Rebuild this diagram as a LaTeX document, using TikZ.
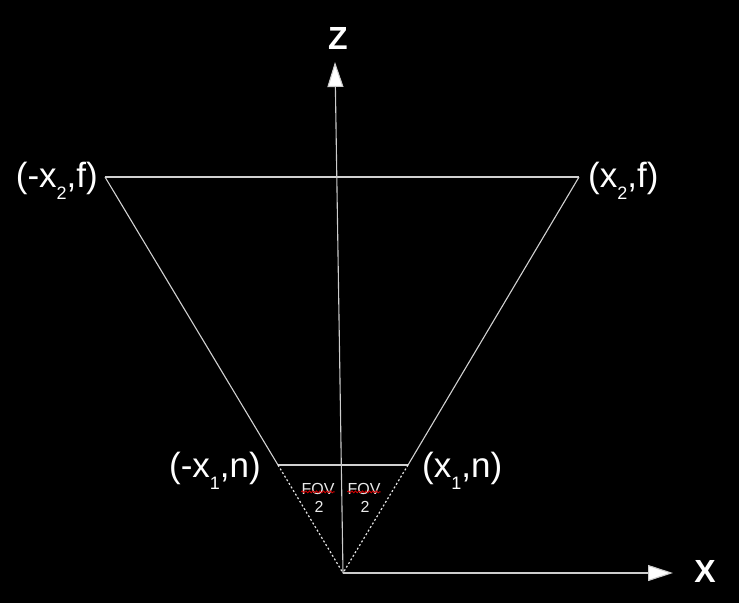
\documentclass[tikz,border=0pt]{standalone}
\usepackage{fontspec}
\setmainfont{Liberation Sans}
\usetikzlibrary{arrows.meta,decorations.pathmorphing}
\newcommand{\mysub}[1]{\raisebox{-12pt}{\fontsize{18}{18}\selectfont #1}}
\tikzset{
  edge/.style={draw=white!82!black, line width=1.1pt},
  dotline/.style={draw=white!90!black, line width=1.2pt, dash pattern=on 2pt off 2.2pt},
  axis/.style={draw=white!80!black, line width=1.1pt, -{Triangle[width=16pt,length=25pt,fill=white]}},
  lab/.style={text=white, inner sep=0pt, font=\fontsize{35}{35}\selectfont},
  axlab/.style={text=white, inner sep=0pt, font=\fontsize{32}{32}\selectfont\bfseries},
  small/.style={text=white!92!black, inner sep=0pt, font=\fontsize{16}{16}\selectfont},
  spell/.style={draw=red!85!black, line width=0.8pt, decorate, decoration={snake, amplitude=1pt, segment length=3.5pt}}
}
\begin{document}
\begin{tikzpicture}[x=1pt,y=-1pt]
\fill[black] (0,0) rectangle (739,603);
\useasboundingbox (0,0) rectangle (739,603);
\coordinate (O) at (343,573);
\coordinate (ztip) at (335,62);
\coordinate (xtip) at (673,573);
\coordinate (A) at (105,177);
\coordinate (B) at (579,177);
\coordinate (C) at (278,465);
\coordinate (D) at (408,465);
\draw[edge] (A) -- (B);
\draw[edge] (A) -- (C);
\draw[edge] (B) -- (D);
\draw[edge] (C) -- (D);
\draw[dotline] (C) -- (O);
\draw[dotline] (D) -- (O);
\draw[axis] (O) -- (ztip);
\draw[axis] (O) -- (xtip);
\node[axlab] (zl) at (338,38) {Z};
\node[axlab] (xl) at (705,571) {X};
\node[lab, anchor=base east] (la) at (98,187) {(-x\mysub{2},f)};
\node[lab, anchor=base west] (lb) at (588,187) {(x\mysub{2},f)};
\node[lab, anchor=base east] (lc) at (261,477) {(-x\mysub{1},n)};
\node[lab, anchor=base west] (ld) at (422,477) {(x\mysub{1},n)};
\node[small, anchor=base] (fl) at (318,494) {FOV};
\node[small, anchor=base] (fl2) at (319,512) {2};
\node[small, anchor=base] (fr) at (364,494) {FOV};
\node[small, anchor=base] (fr2) at (365,512) {2};
\draw[spell] ([yshift=2.5pt]fl.south west) -- ([yshift=2.5pt]fl.south east);
\draw[spell] ([yshift=2.5pt]fr.south west) -- ([yshift=2.5pt]fr.south east);
\end{tikzpicture}
\end{document}
